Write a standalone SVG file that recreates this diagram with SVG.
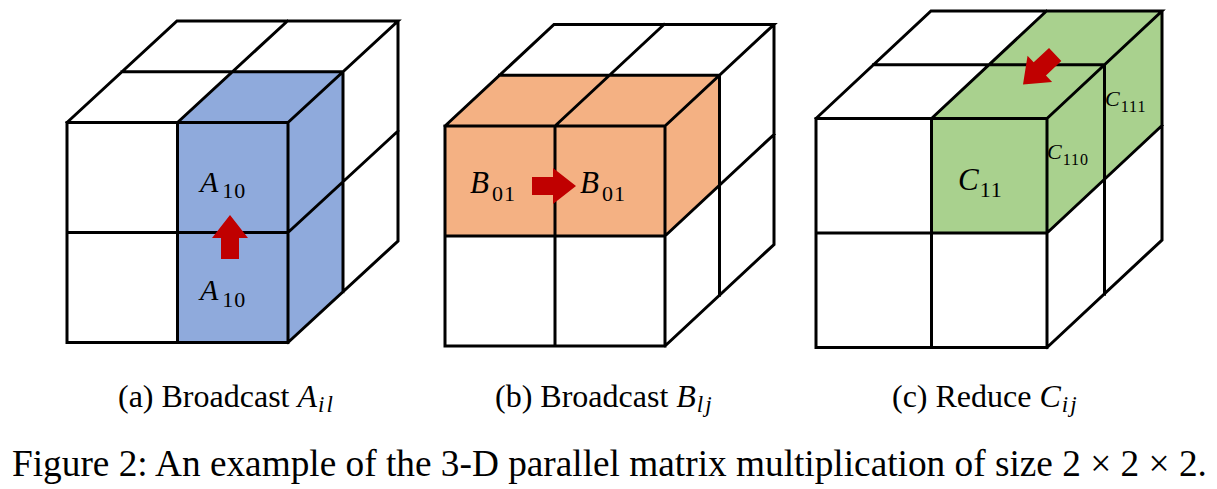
<svg xmlns="http://www.w3.org/2000/svg" xmlns:xlink="http://www.w3.org/1999/xlink" width="1217" height="489" viewBox="0 0 1217 489">
<style>
.edge{fill:none;stroke:#000;stroke-width:3;stroke-linejoin:miter;stroke-linecap:square}
.blue{fill:#8FAADC}
.orange{fill:#F4B183}
.green{fill:#A9D18E}
.arrow{fill:#C00000}
.lbl{font-family:"Liberation Serif","Times New Roman",serif;font-style:italic;fill:#000}
.sub{font-style:normal;letter-spacing:1px}
.cap{font-family:"Liberation Serif","Times New Roman",serif;font-size:32px;fill:#000}
.main{font-family:"Liberation Serif","Times New Roman",serif;font-size:37.3px;fill:#000}
.it{font-style:italic}
.msub{font-style:italic;font-size:23px;letter-spacing:2px}
</style>
<defs>
<polygon id="blockArrow" points="-44,-9 -23,-9 -23,-18 0,0 -23,18 -23,9 -44,9"/>
</defs>
<rect width="1217" height="489" fill="#fff"/>

<g id="cube-a">
<rect class="blue" x="177.5" y="122.5" width="110.5" height="220"/>
<polygon class="blue" points="177.5,122.5 288,122.5 343,71.75 232.5,71.75"/>
<polygon class="blue" points="288,122.5 343,71.75 343,291.75 288,342.5"/>
<path class="edge" d="M67,122.5 H288 V342.5 H67 Z M177.5,122.5 V342.5 M67,232.5 H288 M67,122.5 L177,21 H398 L288,122.5 M177.5,122.5 L287.5,21 M122,71.75 H343 M398,21 V241 L288,342.5 M343,71.75 V291.75 M288,232.5 L398,131"/>
<text class="lbl" x="200" y="192" font-size="30">A<tspan class="sub" font-size="22" dx="4" dy="6">10</tspan></text>
<text class="lbl" x="200" y="300" font-size="30">A<tspan class="sub" font-size="22" dx="4" dy="7">10</tspan></text>
</g>

<g id="cube-b">
<rect class="orange" x="445" y="126" width="220" height="110"/>
<polygon class="orange" points="445,126 665,126 719.5,75.25 499.5,75.25"/>
<polygon class="orange" points="665,126 719.5,75.25 719.5,185.25 665,236"/>
<path class="edge" d="M445,126 H665 V346 H445 Z M555,126 V346 M445,236 H665 M445,126 L554,24.5 H774 L665,126 M555,126 L664,24.5 M499.5,75.25 H719.5 M774,24.5 V244.5 L665,346 M719.5,75.25 V295.25 M665,236 L774,134.5"/>
<text class="lbl" x="470" y="193" font-size="31">B<tspan class="sub" font-size="22" dx="3" dy="8">01</tspan></text>
<text class="lbl" x="580" y="193" font-size="31">B<tspan class="sub" font-size="22" dx="3" dy="8">01</tspan></text>
</g>

<g id="cube-c">
<rect class="green" x="931.5" y="118.5" width="115.5" height="114.5"/>
<polygon class="green" points="931.5,118.5 1047,118.5 1162,11 1046.5,11"/>
<polygon class="green" points="1047,118.5 1162,11 1162,125.5 1047,233"/>
<path class="edge" d="M816,118.5 H1047 V347.5 H816 Z M931.5,118.5 V347.5 M816,233 H1047 M816,118.5 L931,11 H1162 L1047,118.5 M931.5,118.5 L1046.5,11 M873.5,64.75 H1104.5 M1162,11 V240 L1047,347.5 M1104.5,64.75 V294.25 M1047,233 L1162,125.5"/>
<text class="lbl" x="958" y="190" font-size="31">C<tspan class="sub" font-size="22" dx="1" dy="7">11</tspan></text>
<text class="lbl" x="1047" y="159" font-size="22">C<tspan class="sub" font-size="16" dx="1" dy="6">110</tspan></text>
<text class="lbl" x="1105" y="106" font-size="22">C<tspan class="sub" font-size="16" dx="1" dy="6">111</tspan></text>
</g>

<g id="connectors">
<use xlink:href="#blockArrow" href="#blockArrow" class="arrow" transform="translate(230,215) rotate(-90)"/>
<use xlink:href="#blockArrow" href="#blockArrow" class="arrow" transform="translate(576,186)"/>
<use xlink:href="#blockArrow" href="#blockArrow" class="arrow" transform="translate(1023,84.5) rotate(137)"/>
</g>

<g id="captions">
<text class="cap" x="118" y="407">(a) Broadcast <tspan class="it">A</tspan><tspan class="msub" dx="1" dy="5">il</tspan></text>
<text class="cap" x="495" y="407">(b) Broadcast <tspan class="it">B</tspan><tspan class="msub" dx="1" dy="5">lj</tspan></text>
<text class="cap" x="892" y="407">(c) Reduce <tspan class="it">C</tspan><tspan class="msub" dx="1" dy="5">ij</tspan></text>
<text class="main" x="12" y="476">Figure 2: An example of the 3-D parallel matrix multiplication of size 2 × 2 × 2.</text>
</g>
</svg>
